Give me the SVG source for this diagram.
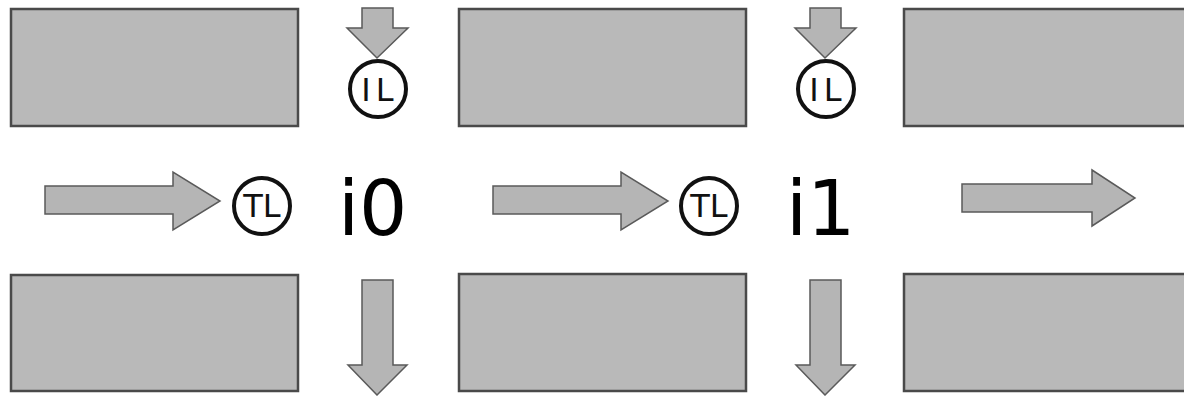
<svg xmlns="http://www.w3.org/2000/svg" width="1184" height="396" viewBox="0 0 1184 396">
<style>
.blk{fill:#b9b9b9;stroke:#4a4a4a;stroke-width:2.5}
.arr{fill:#b5b5b5;stroke:#5a5a5a;stroke-width:1.5;stroke-linejoin:miter}
.lock{fill:#ffffff;stroke:#111;stroke-width:4}
.lt{font-family:"DejaVu Sans",sans-serif;font-size:32px;fill:#111;text-anchor:middle}
.it{font-family:"DejaVu Sans",sans-serif;font-size:76px;fill:#000}
</style>
<rect width="1184" height="396" fill="#ffffff"/>
<g id="blk-top-0"><rect class="blk" x="11" y="9" width="287" height="117"/></g>
<g id="blk-top-1"><rect class="blk" x="459" y="9" width="287" height="117"/></g>
<g id="blk-top-2"><rect class="blk" x="904" y="9" width="300" height="117"/></g>
<g id="blk-bot-0"><rect class="blk" x="11" y="275" width="287" height="116"/></g>
<g id="blk-bot-1"><rect class="blk" x="459" y="274" width="287" height="117"/></g>
<g id="blk-bot-2"><rect class="blk" x="904" y="274" width="300" height="117"/></g>
<g id="connectors">
  <path class="arr" d="M45,186 H173 V172 L220,201 L173,230 V214 H45 Z"/>
  <path class="arr" d="M493,186 H621 V172 L668,201 L621,230 V214 H493 Z"/>
  <path class="arr" d="M962,184 H1092 V170 L1135,198 L1092,226 V212 H962 Z"/>
  <path class="arr" d="M362,8 V28 H347 L377,58 L408,28 H393 V8 Z"/>
  <path class="arr" d="M810,8 V28 H795 L825,58 L856,28 H841 V8 Z"/>
  <path class="arr" d="M362,280 V365 H348 L377,395 L407,365 H393 V280 Z"/>
  <path class="arr" d="M810,280 V365 H796 L825,395 L855,365 H841 V280 Z"/>
</g>
<g id="lock-il-0"><circle class="lock" cx="378" cy="89" r="28"/><text class="lt" x="380" y="101" letter-spacing="5">IL</text></g>
<g id="lock-il-1"><circle class="lock" cx="826" cy="89" r="28"/><text class="lt" x="828" y="101" letter-spacing="5">IL</text></g>
<g id="lock-tl-0"><circle class="lock" cx="262" cy="206" r="28"/><text class="lt" x="262" y="217">TL</text></g>
<g id="lock-tl-1"><circle class="lock" cx="709" cy="206" r="28"/><text class="lt" x="709" y="217">TL</text></g>
<g id="label-i0"><text class="it" x="338" y="235">i0</text></g>
<g id="label-i1"><text class="it" x="786" y="235">i1</text></g>
</svg>
